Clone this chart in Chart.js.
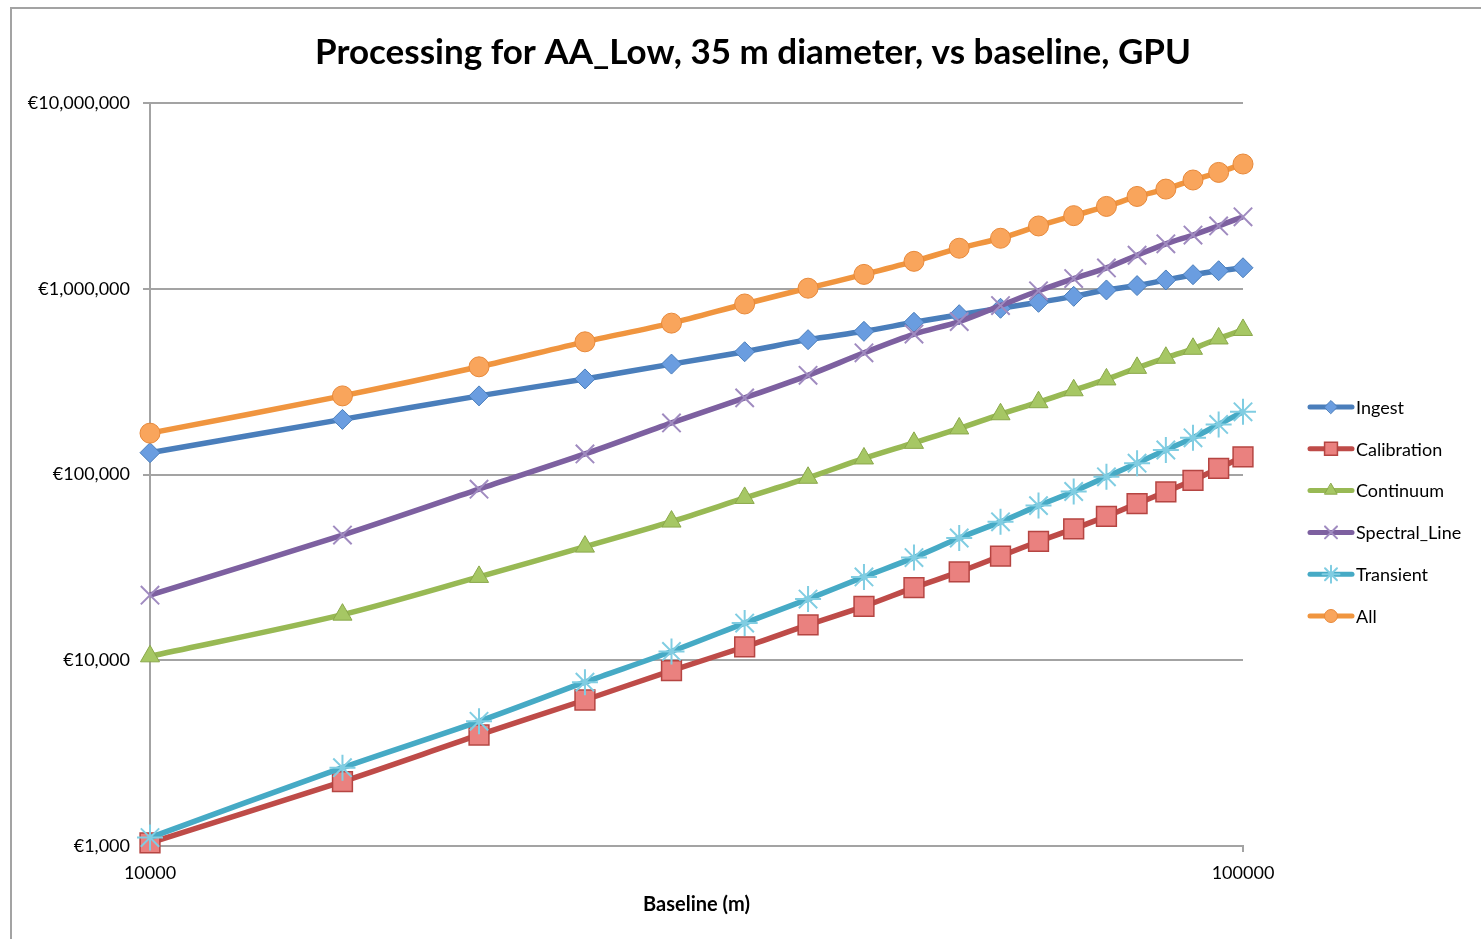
<!DOCTYPE html>
<html>
<head>
<meta charset="utf-8">
<script src="https://cdn.jsdelivr.net/npm/chart.js@4.4.1/dist/chart.umd.min.js"></script>
<style>
    html, body { margin: 0; padding: 0; background: #fff; }
    #wrap { width: 1481px; height: 939px; }
</style>
</head>
<body>
<div id="wrap"><canvas id="costChart" width="1481" height="939"></canvas></div>
<script>
const chartTitle = "Processing for AA_Low, 35 m diameter, vs baseline, GPU";
const xTitle = "Baseline (m)";

const baselines = [10000, 15000, 20000, 25000, 30000, 35000, 40000, 45000, 50000, 55000,
    60000, 65000, 70000, 75000, 80000, 85000, 90000, 95000, 100000];

const ingest = [131000, 198000, 265000, 327000, 393000, 458000, 532000, 590000, 660000, 725000,
    785000, 845000, 910000, 985000, 1040000, 1115000, 1190000, 1250000, 1297000];
const calibration = [1040, 2220, 3960, 6110, 8800, 11800, 15500, 19500, 24600, 29900,
    36400, 43600, 51000, 59500, 69700, 80600, 93000, 108000, 124500];
const continuum = [10500, 17600, 28100, 40900, 55800, 74800, 96000, 122000, 148000, 177000,
    211000, 245000, 284000, 325000, 375000, 425000, 475000, 540000, 600000];
const spectralLine = [22400, 47200, 83400, 129000, 189500, 258500, 342000, 452000, 570000, 666000,
    812000, 975000, 1135000, 1295000, 1515000, 1745000, 1946000, 2178000, 2440000];
const transient = [1110, 2640, 4690, 7620, 11150, 15850, 21350, 28100, 35700, 45500,
    55600, 68000, 81000, 97200, 115000, 135500, 157500, 186000, 217500];
const allCosts = [167000, 265000, 380000, 518000, 653000, 828000, 1007000, 1195000, 1405000, 1653000,
    1870000, 2178000, 2475000, 2775000, 3140000, 3440000, 3850000, 4230000, 4694000];

const xTickValues = [10000, 100000];
const yTickValues = [1000, 10000, 100000, 1000000, 10000000];

const FONT = "Lato, 'Open Sans', sans-serif";
const GRID = "#a3a3a3";

function makeSeries(label, values, line, fill, border, style, radius, bw) {
    return {
        label: label,
        data: values.map((v, i) => ({ x: baselines[i], y: v })),
        borderColor: line,
        borderWidth: 5.5,
        pointStyle: style,
        pointRadius: radius,
        pointHoverRadius: radius,
        pointBackgroundColor: fill,
        pointBorderColor: border,
        pointBorderWidth: bw,
        tension: 0.3,
        clip: false
    };
}

const datasets = [
    makeSeries("Ingest", ingest, "#4a7ebb", "#6a9de0", "#4a7ebb", "rectRot", 10, 1),
    makeSeries("Calibration", calibration, "#be4b48", "#ea817f", "#b54542", "rect", 14, 1.5),
    makeSeries("Continuum", continuum, "#98b954", "#a6c764", "#8aa84a", "triangle", 11, 1),
    makeSeries("Spectral_Line", spectralLine, "#7d60a0", "#9d86bd", "#a08bc0", "crossRot", 13, 2),
    makeSeries("Transient", transient, "#46aac5", "#7ccbe0", "#80cde2", "star", 13, 2),
    makeSeries("All", allCosts, "#f0953f", "#f9a55c", "#e8893a", "circle", 10, 1)
];
// later series sit on top, as in the original
datasets.forEach((d, i) => { d.order = datasets.length - i; });

const extras = {
    id: "extras",
    beforeDraw(chart) {
        const ctx = chart.ctx;
        ctx.save();
        ctx.fillStyle = "#fff";
        ctx.fillRect(0, 0, chart.width, chart.height);
        ctx.strokeStyle = GRID;
        ctx.lineWidth = 2;
        ctx.beginPath();
        ctx.moveTo(11, chart.height);
        ctx.lineTo(11, 8);
        ctx.lineTo(chart.width, 8);
        ctx.stroke();
        ctx.restore();
    },
    afterDraw(chart) {
        const ctx = chart.ctx;
        ctx.save();
        ctx.fillStyle = "#000";
        ctx.font = "bold 35px " + FONT;
        ctx.textAlign = "center";
        ctx.textBaseline = "middle";
        ctx.fillText(chartTitle, 753, 53);

        // legend: line sample with marker, then label
        ctx.font = "18px " + FONT;
        ctx.textAlign = "left";
        chart.data.datasets.forEach((ds, i) => {
            const y = 407 + i * 41.8;
            ctx.strokeStyle = ds.borderColor;
            ctx.lineWidth = 5;
            ctx.lineCap = "round";
            ctx.beginPath();
            ctx.moveTo(1310, y);
            ctx.lineTo(1352, y);
            ctx.stroke();
            ctx.fillStyle = ds.pointBackgroundColor;
            ctx.strokeStyle = ds.pointBorderColor;
            ctx.lineWidth = ds.pointBorderWidth;
            Chart.helpers.drawPoint(ctx, {
                pointStyle: ds.pointStyle,
                rotation: 0,
                radius: ds.pointRadius * 0.65,
                borderWidth: ds.pointBorderWidth
            }, 1331, y);
            ctx.fillStyle = "#000";
            ctx.fillText(ds.label, 1356, y + 1);
        });
        ctx.restore();
    }
};

new Chart(document.getElementById("costChart"), {
    type: "line",
    data: { datasets: datasets },
    plugins: [extras],
    options: {
        responsive: false,
        animation: false,
        layout: { padding: { left: 10, right: 238, top: 103, bottom: 0 } },
        plugins: {
            legend: { display: false },
            title: { display: false },
            tooltip: { enabled: false }
        },
        scales: {
            x: {
                type: "logarithmic",
                position: "bottom",
                min: 10000,
                max: 100000,
                afterBuildTicks: (scale) => { scale.ticks = xTickValues.map(v => ({ value: v })); },
                afterFit: (scale) => { scale.height = 93; },
                ticks: {
                    callback: (v) => String(v),
                    autoSkip: false,
                    maxRotation: 0,
                    padding: 10,
                    color: "#000",
                    font: { family: FONT, size: 18 }
                },
                grid: { drawOnChartArea: false, tickLength: 6, color: GRID, lineWidth: 2 },
                border: { color: GRID, width: 2 },
                title: {
                    display: true,
                    text: xTitle,
                    color: "#000",
                    font: { family: FONT, size: 20, weight: "bold" },
                    padding: { top: 0, bottom: 22 }
                }
            },
            y: {
                type: "logarithmic",
                min: 1000,
                max: 10000000,
                afterBuildTicks: (scale) => { scale.ticks = yTickValues.map(v => ({ value: v })); },
                afterFit: (scale) => { scale.width = 140; },
                ticks: {
                    callback: (v) => "€" + Number(v).toLocaleString("en-US"),
                    padding: 13,
                    color: "#000",
                    font: { family: FONT, size: 18 }
                },
                grid: { tickLength: 7, color: GRID, lineWidth: 2 },
                border: { color: GRID, width: 2 }
            }
        }
    }
});
</script>
</body>
</html>
